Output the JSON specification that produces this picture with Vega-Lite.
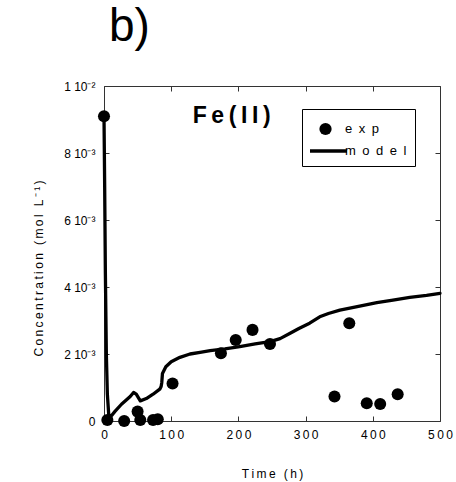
{
  "$schema": "https://vega.github.io/schema/vega-lite/v6.json",
  "width": 336,
  "height": 335,
  "autosize": {"type": "none"},
  "padding": {"left": 104, "top": 86, "right": 16, "bottom": 61},
  "background": "white",
  "title": {"text": "b)", "anchor": "start", "frame": "group", "orient": "top", "fontSize": 46, "fontWeight": "normal", "font": "Liberation Sans", "color": "black", "baseline": "alphabetic", "offset": -7, "dx": 5},
  "config": {
    "view": {"stroke": null},
    "axis": {"grid": false, "domainColor": "#333", "tickColor": "#333", "labelColor": "black", "titleColor": "black", "labelFont": "Liberation Sans", "titleFont": "Liberation Sans", "labelFontSize": 12, "titleFontSize": 12, "titleFontWeight": "normal", "tickSize": -5, "labelFlush": false, "labelOverlap": false},
    "legend": {"labelFont": "Liberation Sans", "labelFontSize": 13, "labelColor": "black", "clipHeight": 14}
  },
  "datasets": {
    "exp": [
      {"t": 0, "c": 0.0091},
      {"t": 5, "c": 0.00003},
      {"t": 30, "c": 0.0},
      {"t": 50, "c": 0.00028},
      {"t": 54, "c": 0.00003},
      {"t": 73, "c": 0.00003},
      {"t": 80, "c": 0.00005},
      {"t": 102, "c": 0.00112},
      {"t": 174, "c": 0.00202},
      {"t": 196, "c": 0.00242},
      {"t": 221, "c": 0.00272},
      {"t": 247, "c": 0.0023},
      {"t": 343, "c": 0.00073},
      {"t": 365, "c": 0.00292},
      {"t": 391, "c": 0.00053},
      {"t": 411, "c": 0.00051},
      {"t": 437, "c": 0.0008}
    ],
    "model": [
      {"t": 0, "c": 0.0091},
      {"t": 1, "c": 0.007},
      {"t": 2, "c": 0.0045},
      {"t": 3.5, "c": 0.002},
      {"t": 5, "c": 0.0008},
      {"t": 7, "c": 0.0002},
      {"t": 8, "c": 0.0001},
      {"t": 12, "c": 0.00018},
      {"t": 16, "c": 0.00028},
      {"t": 26, "c": 0.0005},
      {"t": 39, "c": 0.00073},
      {"t": 44, "c": 0.00085},
      {"t": 48, "c": 0.0008},
      {"t": 54, "c": 0.0006},
      {"t": 63, "c": 0.00067},
      {"t": 73, "c": 0.0008},
      {"t": 83, "c": 0.00095},
      {"t": 85, "c": 0.00103},
      {"t": 86, "c": 0.00115},
      {"t": 87, "c": 0.00142},
      {"t": 92, "c": 0.00162},
      {"t": 100, "c": 0.00177},
      {"t": 113, "c": 0.0019},
      {"t": 128, "c": 0.002},
      {"t": 143, "c": 0.00205},
      {"t": 158, "c": 0.0021},
      {"t": 180, "c": 0.00215},
      {"t": 202, "c": 0.00222},
      {"t": 225, "c": 0.0023},
      {"t": 247, "c": 0.00237},
      {"t": 262, "c": 0.00246},
      {"t": 277, "c": 0.00262},
      {"t": 290, "c": 0.00276},
      {"t": 306, "c": 0.00292},
      {"t": 321, "c": 0.00311},
      {"t": 334, "c": 0.00321},
      {"t": 351, "c": 0.00331},
      {"t": 375, "c": 0.00341},
      {"t": 406, "c": 0.00353},
      {"t": 430, "c": 0.00361},
      {"t": 455, "c": 0.00369},
      {"t": 480, "c": 0.00375},
      {"t": 500, "c": 0.00381}
    ],
    "label": [{"t": 190, "c": 0.0091}]
  },
  "layer": [
    {
      "data": {"name": "model"},
      "mark": {"type": "line", "strokeWidth": 3.3, "strokeJoin": "round", "strokeCap": "round"},
      "encoding": {
        "x": {"field": "t", "type": "quantitative", "scale": {"domain": [0, 500], "nice": false}, "axis": {"orient": "bottom", "values": [0, 100, 200, 300, 400, 500], "labelPadding": 13, "labelExpr": "join(split(datum.label, ''), '\u2009')", "title": "T\u2009i\u2009m\u2009e\u2009 \u2009(\u2009h\u2009)", "titleBaseline": "alphabetic", "titleY": 56}},
        "y": {"field": "c", "type": "quantitative", "scale": {"domain": [0, 0.01], "nice": false}, "axis": {"orient": "left", "values": [0, 0.002, 0.004, 0.006, 0.008, 0.01], "labelPadding": 14, "labelExpr": "datum.value == 0 ? '0' : datum.value > 0.0099 ? '1 10⁻²' : round(datum.value * 1000) + ' 10⁻³'", "title": "C\u2009o\u2009n\u2009c\u2009e\u2009n\u2009t\u2009r\u2009a\u2009t\u2009i\u2009o\u2009n\u2009 \u2009(\u2009m\u2009o\u2009l\u2009 \u2009L\u2009⁻\u2009¹\u2009)", "titleAngle": 270, "titleBaseline": "middle", "titleX": -66, "titleY": 182}},
        "color": {"datum": "model", "scale": {"domain": ["model"], "range": ["black"]}, "legend": {"title": " ", "titleFontSize": 20, "titlePadding": 7, "orient": "none", "legendX": 198, "legendY": 23, "strokeColor": "black", "padding": 8, "symbolSize": 1369, "symbolType": "stroke", "symbolStrokeWidth": 3.5, "symbolStrokeColor": "black", "symbolOffset": -2, "labelOffset": -4, "labelExpr": "'m\u2002o\u2002d\u2002e\u2002l'"}}
      }
    },
    {
      "data": {"name": "exp"},
      "mark": {"type": "point", "filled": true, "size": 145, "opacity": 1, "strokeWidth": 0, "color": "black"},
      "encoding": {
        "x": {"field": "t", "type": "quantitative", "axis": null},
        "y": {"field": "c", "type": "quantitative", "axis": null},
        "shape": {"datum": "exp", "scale": {"domain": ["exp"], "range": ["circle"]}, "legend": {"title": null, "orient": "none", "legendX": 206, "legendY": 36, "padding": 0, "symbolSize": 150, "symbolFillColor": "black", "symbolStrokeWidth": 0, "symbolOffset": 9, "labelOffset": 13, "labelExpr": "'e\u2002x\u2002p'"}}
      }
    },
    {
      "data": {"name": "label"},
      "mark": {"type": "text", "text": "F\u2009e\u2009(\u2009I\u2009I\u2009)", "font": "Liberation Sans", "fontSize": 23, "fontWeight": "bold", "align": "center", "baseline": "middle", "color": "black"},
      "encoding": {
        "x": {"field": "t", "type": "quantitative", "axis": {"orient": "top", "values": [0, 100, 200, 300, 400, 500], "labels": false, "title": null}},
        "y": {"field": "c", "type": "quantitative", "axis": {"orient": "right", "values": [0, 0.002, 0.004, 0.006, 0.008, 0.01], "labels": false, "title": null}}
      }
    }
  ],
  "resolve": {"axis": {"x": "independent", "y": "independent"}}
}
